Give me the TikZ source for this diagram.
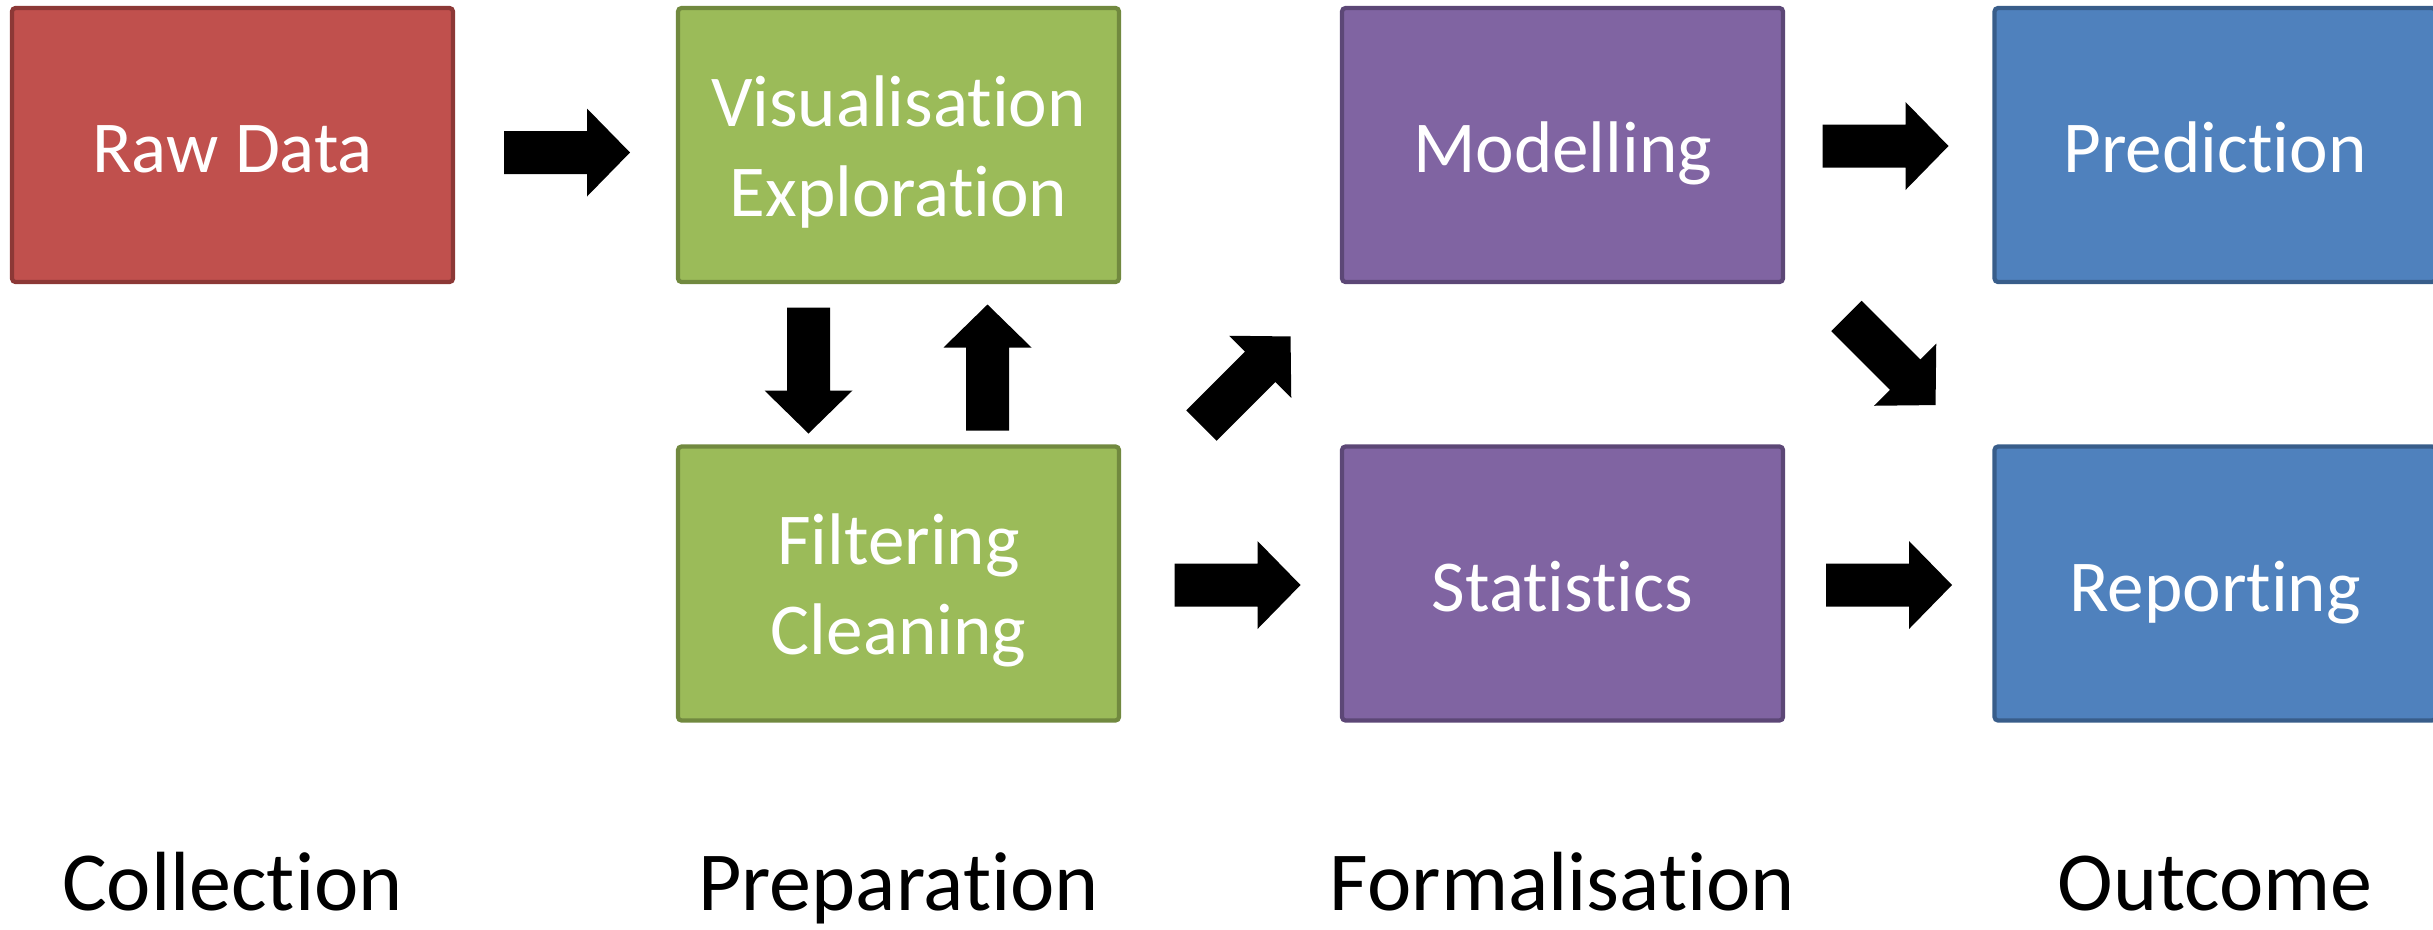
\documentclass[tikz,border=0pt]{standalone}
\usepackage{fontspec}
\setmainfont{Carlito}[Ligatures=CommonOff]
\definecolor{redfill}{HTML}{C0504D}
\definecolor{redline}{HTML}{8C3836}
\definecolor{greenfill}{HTML}{9BBB59}
\definecolor{greenline}{HTML}{71893F}
\definecolor{purplefill}{HTML}{8064A2}
\definecolor{purpleline}{HTML}{5C4776}
\definecolor{bluefill}{HTML}{4F81BD}
\definecolor{blueline}{HTML}{385D8A}
\newcommand{\tallstrut}{\vrule width 0pt height 20.5pt depth 0pt}
\newcommand{\deepstrut}{\vrule width 0pt height 0pt depth 5.5pt}
\tikzset{
	box/.style 2 args={draw=#1,fill=#2,line width=1.2pt,rounded corners=1pt,minimum width=4.41cm,minimum height=2.74cm,
		text=white,align=center,inner sep=0pt,font=\fontsize{20.8}{25.6}\selectfont},
	oneline/.style={execute at begin node={\vrule width 0pt height 21.3pt depth 0pt},
		execute at end node={\deepstrut}},
	stage/.style={anchor=base,inner sep=0pt,font=\fontsize{23.9}{28}\selectfont},
	barrow/.pic={\fill[black] (-0.63,-0.215) -- (0.2,-0.215) -- (0.2,-0.44) -- (0.63,0) -- (0.2,0.44) -- (0.2,0.215) -- (-0.63,0.215) -- cycle;}
}
\begin{document}
\begin{tikzpicture}
	\useasboundingbox (0,0) rectangle (24.33,-9.29);
	\begin{scope}
		\clip (0,0) rectangle (24.33,-9.29);
		\node [box={redline}{redfill},oneline] (raw) at (2.325,-1.45) {Raw Data};
		\node [box={greenline}{greenfill}] (vis) at (8.985,-1.45) {\tallstrut Visualisation\\Exploration\deepstrut};
		\node [box={greenline}{greenfill}] (filt) at (8.985,-5.835) {\tallstrut Filtering\\Cleaning\deepstrut};
		\node [box={purpleline}{purplefill},oneline] (model) at (15.625,-1.45) {Modelling};
		\node [box={purpleline}{purplefill},oneline] (stats) at (15.625,-5.835) {Statistics};
		\node [box={blueline}{bluefill},oneline] (pred) at (22.15,-1.45) {Prediction};
		\node [box={blueline}{bluefill},oneline] (report) at (22.15,-5.835) {Reporting};
	\end{scope}

	\pic at (5.67,-1.525) {barrow};
	\pic [rotate=-90] at (8.085,-3.705) {barrow};
	\pic [rotate=90] at (9.875,-3.675) {barrow};
	\pic [rotate=45] at (12.46,-3.81) {barrow};
	\pic at (12.375,-5.85) {barrow};
	\pic at (18.855,-1.46) {barrow};
	\pic [rotate=-45] at (18.91,-3.605) {barrow};
	\pic at (18.89,-5.85) {barrow};

	\node [stage] (collect) at (raw |- 0,-9.1) {Collection};
	\node [stage] (prep) at (vis |- 0,-9.1) {Preparation};
	\node [stage] (formal) at (model |- 0,-9.1) {Formalisation};
	\node [stage] (outcome) at (pred |- 0,-9.1) {Outcome};
\end{tikzpicture}
\end{document}
